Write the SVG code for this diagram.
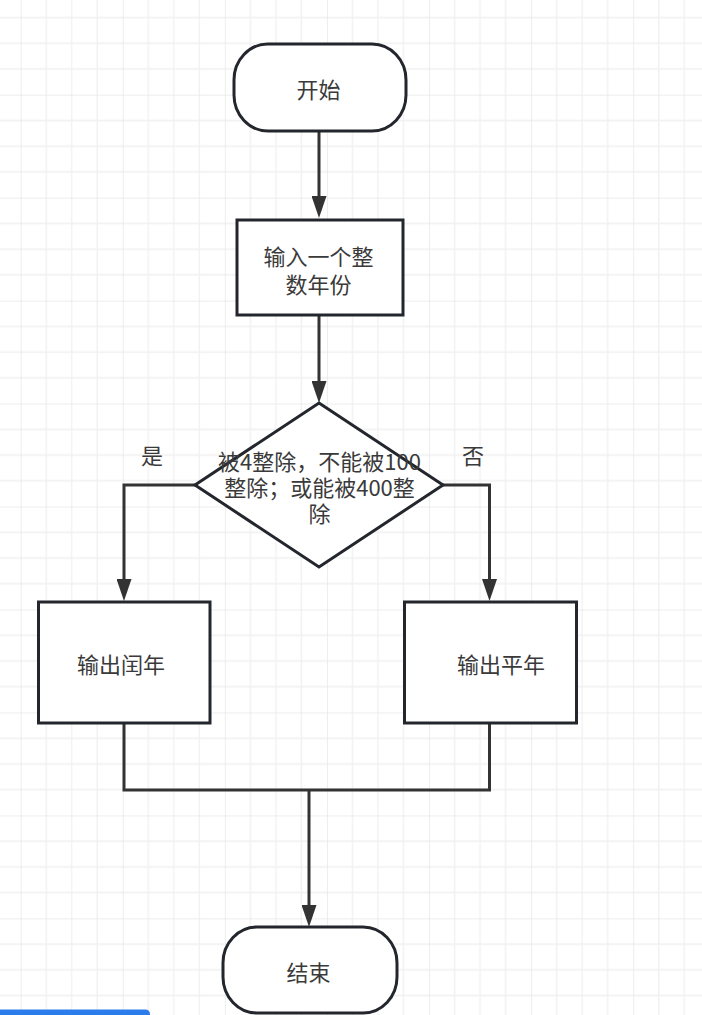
<svg xmlns="http://www.w3.org/2000/svg" width="702" height="1015" viewBox="0 0 702 1015">
  <style>
    .node { fill: #ffffff; stroke: #23272d; stroke-width: 3; }
    .edge { fill: none; stroke: #333333; stroke-width: 3; }
    .label { font-family: "Noto Sans CJK SC", "Noto Sans", sans-serif; font-size: 22px; fill: #3a3a3a; text-anchor: middle; }
  </style>
  <defs>
    <pattern id="grid" patternUnits="userSpaceOnUse" x="20.7" y="94.7" width="102.08" height="102.96">
      <g stroke="#f0f0f0" stroke-width="1.3">
        <line x1="25.52" y1="0" x2="25.52" y2="102.96"/>
        <line x1="51.04" y1="0" x2="51.04" y2="102.96"/>
        <line x1="76.56" y1="0" x2="76.56" y2="102.96"/>
        <line x1="0" y1="25.74" x2="102.08" y2="25.74"/>
        <line x1="0" y1="51.48" x2="102.08" y2="51.48"/>
        <line x1="0" y1="77.22" x2="102.08" y2="77.22"/>
      </g>
      <g stroke="#e7e7e7" stroke-width="1.5">
        <line x1="0" y1="0" x2="0" y2="102.96"/>
        <line x1="0" y1="0" x2="102.08" y2="0"/>
      </g>
    </pattern>
    <marker id="arrow" markerUnits="userSpaceOnUse" markerWidth="22" markerHeight="15" refX="4" refY="7.5" orient="auto">
      <path d="M0,0 L22,7.5 L0,15 Z" fill="#333333"/>
    </marker>
  </defs>

  <rect x="0" y="0" width="702" height="1015" fill="#ffffff"/>
  <rect x="0" y="0" width="702" height="1015" fill="url(#grid)"/>

  <g id="connectors">
    <path class="edge" d="M319,131 L319,200" marker-end="url(#arrow)"/>
    <path class="edge" d="M319,315 L319,385" marker-end="url(#arrow)"/>
    <path class="edge" d="M195,485 L124,485 L124,583" marker-end="url(#arrow)"/>
    <path class="edge" d="M443,485 L489.5,485 L489.5,583" marker-end="url(#arrow)"/>
    <path class="edge" d="M124,723 L124,790 L489.5,790 L489.5,723"/>
    <path class="edge" d="M309,790 L309,909" marker-end="url(#arrow)"/>
    <text class="label" x="152" y="464">是</text>
    <text class="label" x="473" y="464">否</text>
  </g>

  <g id="start">
    <rect class="node" x="234" y="44" width="172" height="87" rx="34" ry="36"/>
    <text class="label" x="318.5" y="98">开始</text>
  </g>

  <g id="input">
    <rect class="node" x="237" y="220" width="166" height="95"/>
    <text class="label" x="318.5" y="264.5">输入一个整</text>
    <text class="label" x="318.5" y="293">数年份</text>
  </g>

  <g id="decision">
    <polygon class="node" points="319,403 443,485 319,567 195,485"/>
    <text class="label" x="319.5" y="469.5">被4整除，不能被100</text>
    <text class="label" x="319.5" y="496">整除；或能被400整</text>
    <text class="label" x="319.5" y="522">除</text>
  </g>

  <g id="leap">
    <rect class="node" x="38.5" y="602" width="171.5" height="121"/>
    <text class="label" x="121" y="673">输出闰年</text>
  </g>

  <g id="common">
    <rect class="node" x="404.5" y="602" width="172" height="121"/>
    <text class="label" x="501" y="673">输出平年</text>
  </g>

  <g id="end">
    <rect class="node" x="223" y="927" width="174" height="86" rx="34" ry="36"/>
    <text class="label" x="308.5" y="981">结束</text>
  </g>

  <path d="M0,1009.5 L145,1009.5 Q150,1009.5 150,1014.5 L150,1016 L0,1016 Z" fill="#2d7ceb"/>
</svg>
